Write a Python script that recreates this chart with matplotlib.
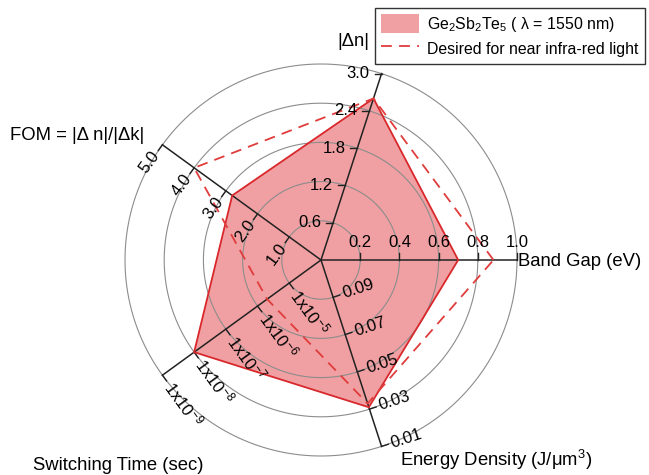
import numpy as np
import matplotlib
matplotlib.use('Agg')
from matplotlib import pyplot as plt
from matplotlib.patches import Patch
from matplotlib.lines import Line2D

plt.rcParams['font.family'] = ['Liberation Sans', 'DejaVu Sans']
plt.rcParams['mathtext.fontset'] = 'custom'
plt.rcParams['mathtext.rm'] = 'Liberation Sans'
plt.rcParams['mathtext.it'] = 'Liberation Sans:italic'

# chart data
axis_titles = ['Band Gap (eV)', '|Δn|', 'FOM = |Δ n|/|Δk|', 'Switching Time (sec)',
               'Energy Density (J/μm$^3$)']
band_gap_ticks = [0.2, 0.4, 0.6, 0.8, 1.0]
delta_n_ticks = [0.6, 1.2, 1.8, 2.4, 3.0]
fom_ticks = [1.0, 2.0, 3.0, 4.0, 5.0]
switching_ticks = [1e-5, 1e-6, 1e-7, 1e-8, 1e-9]
energy_ticks = [0.09, 0.07, 0.05, 0.03, 0.01]
switching_labels = ['1x10$^{-5}$', '1x10$^{-6}$', '1x10$^{-7}$', '1x10$^{-8}$', '1x10$^{-9}$']

gst_values = [0.70, 2.6, 2.8, 1e-8, 0.031]
desired_values = [0.88, 2.6, 4.0, 2e-6, 0.033]

series_labels = ['Ge$_2$Sb$_2$Te$_5$ ( λ = 1550 nm)', 'Desired for near infra-red light']

all_ticks = [band_gap_ticks, delta_n_ticks, fom_ticks, switching_ticks, energy_ticks]
log_axis = [False, False, False, True, False]
ring_levels = [0.2, 0.4, 0.6, 0.8, 1.0]
angles = np.deg2rad([0, 72, 144, 216, 288])

W, H = 649, 475
cx, cy, R = 321, 260, 196


def to_r(i, v):
    t = np.array(all_ticks[i], dtype=float)
    x = v
    if log_axis[i]:
        t = np.log10(t)
        x = np.log10(v)
    return 0.2 + (x - t[0]) / (t[1] - t[0]) * 0.2


def px(x, y):
    # pixel position of the picture -> data coordinates
    return (x - cx) / R, (cy - y) / R


fig = plt.figure(figsize=(W / 100, H / 100), dpi=100)
ax = fig.add_axes([0, 0, 1, 1])
ax.set_xlim(-cx / R, (W - cx) / R)
ax.set_ylim(-(H - cy) / R, cy / R)
ax.axis('off')

fill_color = '#f0a0a2'
edge_color = '#d8282c'
dash_color = '#e03c3c'

# polygons
r_gst = np.array([to_r(i, v) for i, v in enumerate(gst_values)])
r_des = np.array([to_r(i, v) for i, v in enumerate(desired_values)])
xg, yg = r_gst * np.cos(angles), r_gst * np.sin(angles)
xd, yd = r_des * np.cos(angles), r_des * np.sin(angles)
ax.fill(xg, yg, facecolor=fill_color, edgecolor='none', zorder=1)
ax.fill(xg, yg, facecolor='none', edgecolor=edge_color, lw=1.3, zorder=4)
ax.plot(np.append(xd, xd[0]), np.append(yd, yd[0]), color=dash_color, lw=1.3,
        dashes=(6, 4), zorder=5)

# grid circles
th = np.linspace(0, 2 * np.pi, 400)
for lv in ring_levels:
    ax.plot(lv * np.cos(th), lv * np.sin(th), color='#8c8c8c', lw=0.8, zorder=2)

# axes with ticks and labels
tick_len = 7 / R
lab_gap = 10 / R
fs_tick = 12
for i, a in enumerate(angles):
    d = np.array([np.cos(a), np.sin(a)])
    ax.plot([0, d[0]], [0, d[1]], color='#222222', lw=1.1, zorder=3)
    ticks = all_ticks[i]
    for k, lv in enumerate(ring_levels):
        p = lv * d
        if i == 0:
            tdir = np.array([0.0, 1.0])
            ax.text(p[0], p[1] + lab_gap, f'{ticks[k]:.1f}', ha='center', va='bottom',
                    fontsize=fs_tick, zorder=6)
        elif i == 1:
            tdir = np.array([-1.0, 0.0])
            ax.text(p[0] - lab_gap - 2 / R, p[1], f'{ticks[k]:.1f}', ha='right', va='center',
                    fontsize=fs_tick, zorder=6)
        elif i == 2:
            tdir = np.array([np.cos(a + np.pi / 2), np.sin(a + np.pi / 2)])
            q = p + lab_gap * tdir
            ax.text(q[0], q[1], f'{ticks[k]:.1f}', rotation=54, rotation_mode='anchor',
                    ha='right', va='center', fontsize=fs_tick, zorder=6)
        elif i == 3:
            tdir = np.array([np.cos(a + np.pi / 2), np.sin(a + np.pi / 2)])
            q = p + lab_gap * tdir
            ax.text(q[0], q[1], switching_labels[k], rotation=-54, rotation_mode='anchor',
                    ha='left', va='center', fontsize=fs_tick, zorder=6)
        else:
            tdir = np.array([np.cos(a + np.pi / 2), np.sin(a + np.pi / 2)])
            q = p + lab_gap * tdir
            ax.text(q[0], q[1], f'{ticks[k]:.2f}', rotation=18, rotation_mode='anchor',
                    ha='left', va='center', fontsize=fs_tick, zorder=6)
        e = p + tick_len * tdir
        ax.plot([p[0], e[0]], [p[1], e[1]], color='#222222', lw=1.0, zorder=3)

# axis titles
fs_title = 13.3
ax.text(*px(518, 261), axis_titles[0], ha='left', va='center', fontsize=fs_title)
ax.text(*px(353, 42), axis_titles[1], ha='center', va='center', fontsize=fs_title)
ax.text(*px(10, 135), axis_titles[2], ha='left', va='center', fontsize=fs_title)
ax.text(*px(33, 465), axis_titles[3], ha='left', va='center', fontsize=fs_title)
ax.text(*px(400, 460), axis_titles[4], ha='left', va='center', fontsize=fs_title)

handles = [Patch(facecolor=fill_color, edgecolor='none'),
           Line2D([0], [0], color=dash_color, lw=1.3, dashes=(6, 4))]
leg = ax.legend(handles, series_labels, loc='upper right', fontsize=11.4,
                bbox_to_anchor=(645 / W, 1 - 8 / H), bbox_transform=fig.transFigure,
                borderaxespad=0, fancybox=False, framealpha=1, edgecolor='#333333',
                handlelength=2.4, handleheight=1.4, handletextpad=0.5, borderpad=0.4,
                labelspacing=0.35)
leg.get_frame().set_linewidth(1.0)

plt.savefig('out.png', dpi=100)
